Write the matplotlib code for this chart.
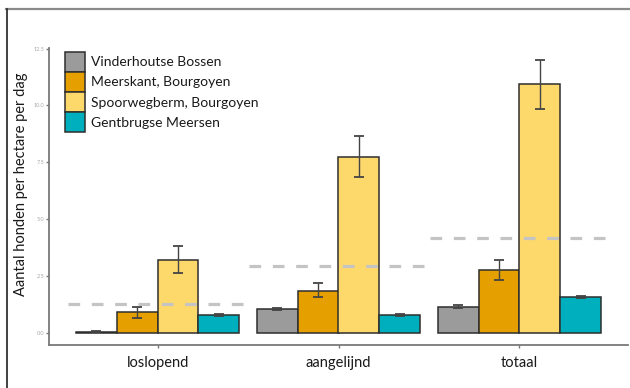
import matplotlib
matplotlib.use("Agg")
import matplotlib.pyplot as plt
from matplotlib.lines import Line2D
import numpy as np

plt.rcParams['font.family'] = ['Lato', 'DejaVu Sans']
plt.rcParams['lines.scale_dashes'] = False

# Data
groups = ["loslopend", "aangelijnd", "totaal"]
sites = ["Vinderhoutse Bossen", "Meerskant, Bourgoyen",
         "Spoorwegberm, Bourgoyen", "Gentbrugse Meersen"]
colors = ["#9b9b9b", "#e5a000", "#fdd96c", "#00afbd"]

# mean per site (rows) and group (columns)
means = [
    [0.05, 1.05, 1.15],
    [0.90, 1.84, 2.74],
    [3.19, 7.73, 10.95],
    [0.77, 0.79, 1.57],
]
err_low = [
    [0.03, 0.99, 1.09],
    [0.66, 1.56, 2.33],
    [2.62, 6.84, 9.86],
    [0.72, 0.74, 1.52],
]
err_high = [
    [0.07, 1.11, 1.21],
    [1.15, 2.18, 3.18],
    [3.80, 8.65, 12.02],
    [0.82, 0.84, 1.62],
]
group_mean = [1.28, 2.93, 4.17]

yticks = [0.0, 2.5, 5.0, 7.5, 10.0, 12.5]
ytick_labels = ["0.0", "2.5", "5.0", "7.5", "10.0", "12.5"]

W, H = 630, 388
fig = plt.figure(figsize=(W / 100, H / 100), dpi=100)
ax = fig.add_axes([49 / W, 1 - 345 / H, (628 - 49) / W, (345 - 48) / H])

x = np.arange(1, len(groups) + 1)
width = 0.225
offsets = (np.arange(len(sites)) - 1.5) * width

for i, site in enumerate(sites):
    m = np.array(means[i])
    lo = m - np.array(err_low[i])
    hi = np.array(err_high[i]) - m
    ax.bar(x + offsets[i], m, width=width, color=colors[i],
           edgecolor="#2e2e2e", linewidth=1.1, label=site, zorder=2)
    ax.errorbar(x + offsets[i], m, yerr=[lo, hi], fmt="none",
                ecolor="#444444", elinewidth=1.0, capsize=3.5,
                capthick=1.3, zorder=4)

for xi, gm in zip(x, group_mean):
    ax.hlines(gm, xi - 0.495, xi + 0.495, colors="#c4c4c4",
              linewidth=2.3, linestyles=(0, (8.4, 8.4)), zorder=3)

ax.set_xlim(0.4, 3.6)
ax.set_ylim(-0.54, 12.53)
ax.set_xticks(x)
ax.set_xticklabels(groups, fontsize=10.5, color="#1a1a1a")
ax.set_yticks(yticks)
ax.set_yticklabels(ytick_labels, fontsize=4, color="#a8a8a8")
ax.tick_params(axis="y", length=2.5, width=1.0, color="#777777", pad=1)
ax.tick_params(axis="x", length=2, width=1.0, color="#777777", pad=6)
ax.set_ylabel("Aantal honden per hectare per dag", fontsize=10.5,
              color="#1a1a1a")
ax.yaxis.set_label_coords(-0.037, 0.54)

for side in ("top", "right"):
    ax.spines[side].set_visible(False)
for side in ("left", "bottom"):
    ax.spines[side].set_color("#7a7a7a")
    ax.spines[side].set_linewidth(1.3)

leg = ax.legend(loc="upper left", bbox_to_anchor=(0.0276, 0.9865),
                frameon=False, fontsize=10, borderpad=0, borderaxespad=0,
                labelspacing=0.0, handlelength=1.44, handleheight=1.84,
                handletextpad=0.4)
for t in leg.get_texts():
    t.set_color("#1a1a1a")

# outer frame lines
fig.add_artist(Line2D([6 / W, 1], [1 - 9 / H, 1 - 9 / H],
                      transform=fig.transFigure, color="#8a8a8a", lw=1.6))
fig.add_artist(Line2D([6.5 / W, 6.5 / W], [0, 1 - 9 / H],
                      transform=fig.transFigure, color="#333333", lw=1.3))

fig.savefig("out.png", dpi=100)
